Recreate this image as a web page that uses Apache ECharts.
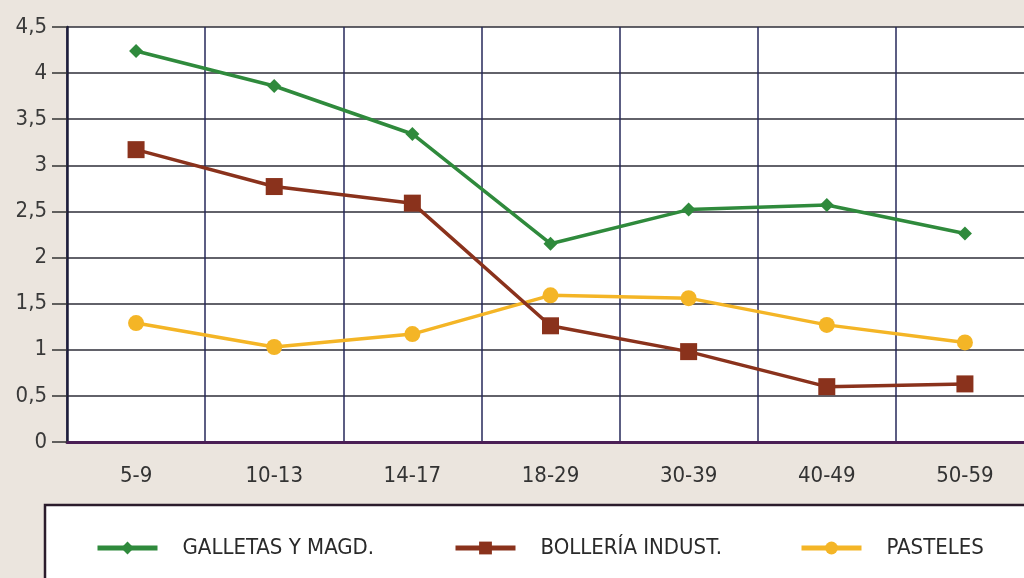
<!DOCTYPE html>
<html>
<head>
<meta charset="utf-8">
<script src="https://cdn.jsdelivr.net/npm/echarts@6/dist/echarts.min.js"></script>
<style>
  html, body { margin: 0; padding: 0; background: #ebe5de; overflow: hidden; }
  #chart { width: 1044px; height: 578px; }
</style>
</head>
<body>
<div id="chart"></div>
<script>
// Age groups on the x axis
const ageGroups = ['5-9', '10-13', '14-17', '18-29', '30-39', '40-49', '50-59'];

// Series values per age group
const galletas = [4.24, 3.86, 3.34, 2.15, 2.52, 2.57, 2.26];
const bolleria = [3.17, 2.77, 2.59, 1.26, 0.98, 0.60, 0.63];
const pasteles = [1.29, 1.03, 1.17, 1.59, 1.56, 1.27, 1.08];

const seriesNames = ['GALLETAS Y MAGD.', 'BOLLERÍA INDUST.', 'PASTELES'];

const FONT = '"Liberation Sans Narrow", "DejaVu Sans Condensed", "Roboto", sans-serif';
const GREEN = '#2f8a3c';
const BROWN = '#8a321c';
const YELLOW = '#f4b526';

const chart = echarts.init(document.getElementById('chart'));

function legendFor(name, left) {
  return {
    data: [name],
    left: left,
    top: 537,
    padding: 0,
    itemWidth: 60,
    itemHeight: 16,
    lineStyle: { width: 5 },
    textStyle: { fontFamily: FONT, fontSize: 22, color: '#2a2a2a', padding: [0, 0, 0, 20] },
    selectedMode: false
  };
}

chart.setOption({
  backgroundColor: '#ebe5de',
  animation: false,
  graphic: [
    {
      type: 'rect',
      shape: { x: 45, y: 505, width: 1010, height: 100 },
      style: { fill: '#ffffff', stroke: '#2b1c2c', lineWidth: 2.5 },
      z: 0
    }
  ],
  legend: [
    legendFor(seriesNames[0], 95),
    legendFor(seriesNames[1], 453),
    legendFor(seriesNames[2], 799)
  ],
  grid: {
    left: 67,
    top: 27,
    width: 967,
    height: 415,
    show: true,
    backgroundColor: '#ffffff',
    borderWidth: 0
  },
  xAxis: {
    type: 'category',
    data: ageGroups,
    boundaryGap: true,
    axisLine: { show: true, lineStyle: { color: '#4a1f55', width: 3 } },
    axisTick: { show: false },
    axisLabel: { fontFamily: FONT, fontSize: 22, color: '#333333', margin: 23 },
    splitLine: { show: true, lineStyle: { color: '#26285a', width: 1.5 } }
  },
  yAxis: {
    type: 'value',
    min: 0,
    max: 4.5,
    interval: 0.5,
    axisLine: { show: true, lineStyle: { color: '#1e1e3a', width: 2.5 } },
    axisTick: { show: true, length: 15, lineStyle: { color: '#333333', width: 1.5 } },
    axisLabel: {
      fontFamily: FONT, fontSize: 22, color: '#3a3a3a', margin: 20,
      formatter: v => String(v).replace('.', ',')
    },
    splitLine: { show: true, lineStyle: { color: '#2e2e38', width: 1.5 } }
  },
  series: [
    {
      name: seriesNames[0], type: 'line', data: galletas,
      symbol: 'diamond', symbolSize: 14,
      itemStyle: { color: GREEN }, lineStyle: { color: GREEN, width: 3.5 }, z: 3
    },
    {
      name: seriesNames[1], type: 'line', data: bolleria,
      symbol: 'rect', symbolSize: 17,
      itemStyle: { color: BROWN }, lineStyle: { color: BROWN, width: 3.5 }, z: 4
    },
    {
      name: seriesNames[2], type: 'line', data: pasteles,
      symbol: 'circle', symbolSize: 16,
      itemStyle: { color: YELLOW }, lineStyle: { color: YELLOW, width: 3.5 }, z: 2
    }
  ]
});
</script>
</body>
</html>
